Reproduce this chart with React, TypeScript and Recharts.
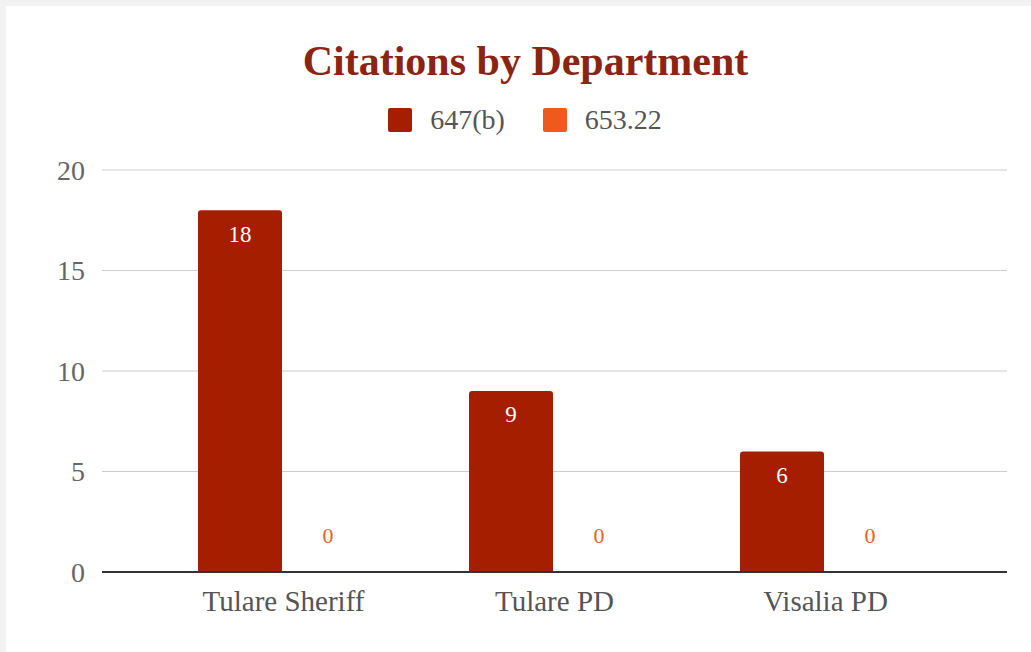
import React from 'react';
import { BarChart, Bar, XAxis, YAxis, CartesianGrid, LabelList } from 'recharts';

const departments = ['Tulare Sheriff', 'Tulare PD', 'Visalia PD'];
const citations647b = [18, 9, 6];
const citations65322 = [0, 0, 0];
const yTicks = [0, 5, 10, 15, 20];

const SERIES = [
  { key: 'c647b', name: '647(b)', color: '#a61e00' },
  { key: 'c65322', name: '653.22', color: '#ef5a1c' },
];

const FONT = "'Liberation Serif', 'Times New Roman', serif";

const App: React.FC = () => {
  const chartData = departments.map((name, i) => ({
    name,
    c647b: citations647b[i],
    c65322: citations65322[i],
  }));

  return (
    <div
      style={{
        position: 'absolute',
        left: 0,
        top: 0,
        width: 1031,
        height: 652,
        overflow: 'hidden',
        background: '#f2f2f2',
        fontFamily: FONT,
      }}
    >
      <div
        style={{
          position: 'absolute',
          left: 6,
          top: 6,
          width: 1040,
          height: 660,
          background: '#ffffff',
        }}
      />
      <div
        style={{
          position: 'absolute',
          left: 0,
          top: 40,
          width: 1051,
          textAlign: 'center',
          fontSize: 42,
          lineHeight: '42px',
          fontWeight: 'bold',
          color: '#8c2414',
        }}
      >
        Citations by Department
      </div>
      <div
        style={{
          position: 'absolute',
          left: 0,
          top: 107,
          width: 1050,
          height: 25,
          display: 'flex',
          justifyContent: 'center',
          alignItems: 'center',
          gap: 38,
          fontSize: 28,
          color: '#555555',
        }}
      >
        {SERIES.map((s) => (
          <div key={s.key} style={{ display: 'flex', alignItems: 'center', gap: 18 }}>
            <span
              style={{
                display: 'inline-block',
                width: 24,
                height: 24,
                borderRadius: 2,
                background: s.color,
              }}
            />
            <span style={{ lineHeight: '25px' }}>{s.name}</span>
          </div>
        ))}
      </div>
      <BarChart
        width={1031}
        height={652}
        data={chartData}
        margin={{ top: 170, right: 24, bottom: 50, left: 22 }}
        barSize={84}
        barGap={4}
        style={{ position: 'absolute', left: 0, top: 0 }}
      >
        <CartesianGrid vertical={false} stroke="#cccccc" />
        <XAxis
          dataKey="name"
          height={30}
          padding={{ left: 46, right: 46 }}
          axisLine={{ stroke: '#333333', strokeWidth: 2 }}
          tickLine={false}
          tickMargin={12}
          tick={{ fill: '#555555', fontSize: 29, fontFamily: FONT }}
        />
        <YAxis
          width={80}
          domain={[0, 20]}
          ticks={yTicks}
          axisLine={false}
          tickLine={false}
          tickMargin={11}
          tick={{ fill: '#666666', fontSize: 28, fontFamily: FONT }}
        />
        <Bar dataKey="c647b" name="647(b)" fill={SERIES[0].color} radius={[3, 3, 0, 0]} isAnimationActive={false}>
          <LabelList
            dataKey="c647b"
            position="insideTop"
            offset={15}
            fill="#ffffff"
            fontSize={23}
            fontFamily={FONT}
          />
        </Bar>
        <Bar
          dataKey="c65322"
          name="653.22"
          fill={SERIES[1].color}
          minPointSize={0.01}
          radius={[3, 3, 0, 0]}
          isAnimationActive={false}
        >
          <LabelList
            dataKey="c65322"
            position="top"
            offset={29}
            fill="#f0601f"
            fontSize={22}
            fontFamily={FONT}
          />
        </Bar>
      </BarChart>
    </div>
  );
};

export default App;
